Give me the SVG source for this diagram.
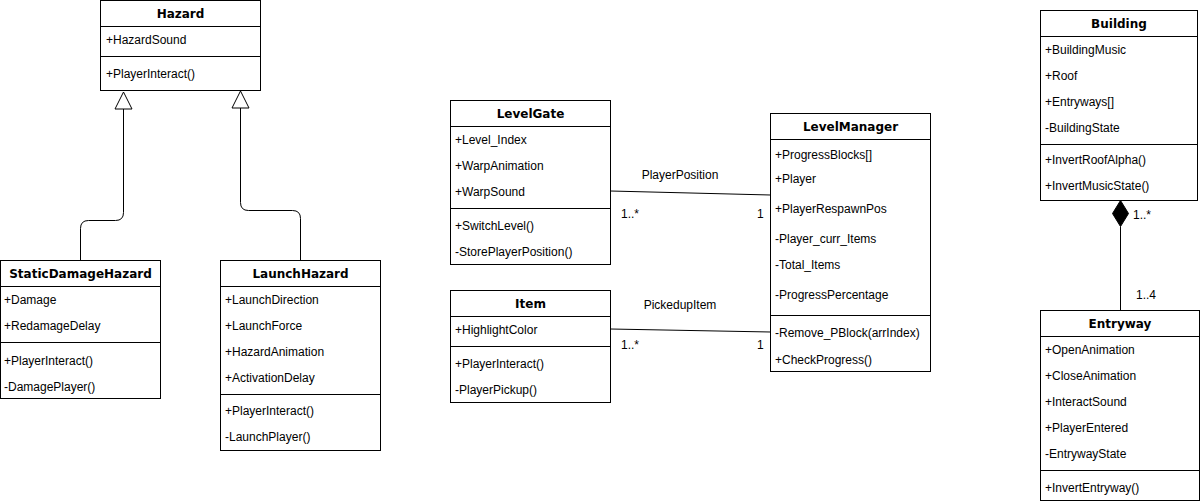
<svg xmlns="http://www.w3.org/2000/svg" width="1201" height="504" viewBox="0 0 1201 504">
<style>
.box{fill:#fff;stroke:#000;stroke-width:1}
.sep{stroke:#000;stroke-width:1}
.t{font-family:"DejaVu Sans",Verdana,sans-serif;font-weight:bold;font-size:12px;fill:#000;text-anchor:middle}
.a{font-family:"Liberation Sans",Arial,sans-serif;font-size:12px;fill:#000}
.lbl{font-family:"Liberation Sans",Arial,sans-serif;font-size:12px;fill:#000}
.edge{fill:none;stroke:#000;stroke-width:1}
</style>
<rect width="1201" height="504" fill="#fff"/>
<g id="connectors">
  <path class="edge" d="M123.5,109 V212.5 Q123.5,220.5 115.5,220.5 H88.5 Q80.5,220.5 80.5,228.5 V260.5"/>
  <polygon class="edge" points="123.5,92 132,109 115,109" style="fill:#fff"/>
  <path class="edge" d="M240.5,108 V202.5 Q240.5,210.5 248.5,210.5 H292.5 Q300.5,210.5 300.5,218.5 V260.5"/>
  <polygon class="edge" points="240.5,91 249,108 232,108" style="fill:#fff"/>
  <path class="edge" d="M610.5,191 L770.5,195"/>
  <text class="lbl" x="680" y="179" text-anchor="middle">PlayerPosition</text>
  <text class="lbl" x="621" y="218">1..*</text>
  <text class="lbl" x="757" y="218">1</text>
  <path class="edge" d="M610.5,329 L770.5,332"/>
  <text class="lbl" x="680" y="309" text-anchor="middle">PickedupItem</text>
  <text class="lbl" x="621" y="349">1..*</text>
  <text class="lbl" x="757" y="349">1</text>
  <path class="edge" d="M1120.5,226.5 V310.5"/>
  <polygon points="1120.5,200.5 1128.5,213.5 1120.5,226.5 1112.5,213.5" fill="#000" stroke="#000"/>
  <text class="lbl" x="1133" y="219">1..*</text>
  <text class="lbl" x="1136" y="299">1..4</text>
</g>
<g id="Hazard">
  <rect class="box" x="100.5" y="0.5" width="160" height="90"/>
  <line class="sep" x1="100.5" y1="26.5" x2="260.5" y2="26.5"/>
  <line class="sep" x1="100.5" y1="56.5" x2="260.5" y2="56.5"/>
  <text class="t" x="180.5" y="18">Hazard</text>
  <text class="a" x="106" y="44">+HazardSound</text>
  <text class="a" x="106" y="78">+PlayerInteract()</text>
</g>
<g id="StaticDamageHazard">
  <rect class="box" x="0.5" y="260.5" width="160" height="138"/>
  <line class="sep" x1="0.5" y1="286.5" x2="160.5" y2="286.5"/>
  <line class="sep" x1="0.5" y1="342.5" x2="160.5" y2="342.5"/>
  <text class="t" x="80.5" y="278">StaticDamageHazard</text>
  <text class="a" x="4" y="304">+Damage</text>
  <text class="a" x="4" y="330">+RedamageDelay</text>
  <text class="a" x="4" y="365">+PlayerInteract()</text>
  <text class="a" x="4" y="391">-DamagePlayer()</text>
</g>
<g id="LaunchHazard">
  <rect class="box" x="220.5" y="260.5" width="160" height="190"/>
  <line class="sep" x1="220.5" y1="286.5" x2="380.5" y2="286.5"/>
  <line class="sep" x1="220.5" y1="394.5" x2="380.5" y2="394.5"/>
  <text class="t" x="300.5" y="278">LaunchHazard</text>
  <text class="a" x="225" y="304">+LaunchDirection</text>
  <text class="a" x="225" y="330">+LaunchForce</text>
  <text class="a" x="225" y="356">+HazardAnimation</text>
  <text class="a" x="225" y="382">+ActivationDelay</text>
  <text class="a" x="225" y="415">+PlayerInteract()</text>
  <text class="a" x="225" y="441">-LaunchPlayer()</text>
</g>
<g id="LevelGate">
  <rect class="box" x="450.5" y="100.5" width="160" height="164"/>
  <line class="sep" x1="450.5" y1="126.5" x2="610.5" y2="126.5"/>
  <line class="sep" x1="450.5" y1="208.5" x2="610.5" y2="208.5"/>
  <text class="t" x="530.5" y="118">LevelGate</text>
  <text class="a" x="455" y="144">+Level_Index</text>
  <text class="a" x="455" y="170">+WarpAnimation</text>
  <text class="a" x="455" y="196">+WarpSound</text>
  <text class="a" x="455" y="230">+SwitchLevel()</text>
  <text class="a" x="455" y="256">-StorePlayerPosition()</text>
</g>
<g id="Item">
  <rect class="box" x="450.5" y="290.5" width="160" height="112"/>
  <line class="sep" x1="450.5" y1="316.5" x2="610.5" y2="316.5"/>
  <line class="sep" x1="450.5" y1="346.5" x2="610.5" y2="346.5"/>
  <text class="t" x="530.5" y="308">Item</text>
  <text class="a" x="455" y="334">+HighlightColor</text>
  <text class="a" x="455" y="368">+PlayerInteract()</text>
  <text class="a" x="455" y="394">-PlayerPickup()</text>
</g>
<g id="LevelManager">
  <rect class="box" x="770.5" y="113.5" width="160" height="258"/>
  <line class="sep" x1="770.5" y1="139.5" x2="930.5" y2="139.5"/>
  <line class="sep" x1="770.5" y1="315.5" x2="930.5" y2="315.5"/>
  <text class="t" x="850.5" y="131">LevelManager</text>
  <text class="a" x="775" y="159">+ProgressBlocks[]</text>
  <text class="a" x="775" y="183">+Player</text>
  <text class="a" x="775" y="213">+PlayerRespawnPos</text>
  <text class="a" x="775" y="243">-Player_curr_Items</text>
  <text class="a" x="775" y="269">-Total_Items</text>
  <text class="a" x="775" y="299">-ProgressPercentage</text>
  <text class="a" x="775" y="337">-Remove_PBlock(arrIndex)</text>
  <text class="a" x="775" y="364">+CheckProgress()</text>
</g>
<g id="Building">
  <rect class="box" x="1040.5" y="10.5" width="157" height="190"/>
  <line class="sep" x1="1040.5" y1="36.5" x2="1197.5" y2="36.5"/>
  <line class="sep" x1="1040.5" y1="144.5" x2="1197.5" y2="144.5"/>
  <text class="t" x="1119" y="28">Building</text>
  <text class="a" x="1045" y="54">+BuildingMusic</text>
  <text class="a" x="1045" y="80">+Roof</text>
  <text class="a" x="1045" y="106">+Entryways[]</text>
  <text class="a" x="1045" y="132">-BuildingState</text>
  <text class="a" x="1045" y="164">+InvertRoofAlpha()</text>
  <text class="a" x="1045" y="190">+InvertMusicState()</text>
</g>
<g id="Entryway">
  <rect class="box" x="1040.5" y="310.5" width="159" height="190"/>
  <line class="sep" x1="1040.5" y1="336.5" x2="1199.5" y2="336.5"/>
  <line class="sep" x1="1040.5" y1="470.5" x2="1199.5" y2="470.5"/>
  <text class="t" x="1120" y="328">Entryway</text>
  <text class="a" x="1045" y="354">+OpenAnimation</text>
  <text class="a" x="1045" y="380">+CloseAnimation</text>
  <text class="a" x="1045" y="406">+InteractSound</text>
  <text class="a" x="1045" y="432">+PlayerEntered</text>
  <text class="a" x="1045" y="458">-EntrywayState</text>
  <text class="a" x="1045" y="492">+InvertEntryway()</text>
</g>
</svg>
